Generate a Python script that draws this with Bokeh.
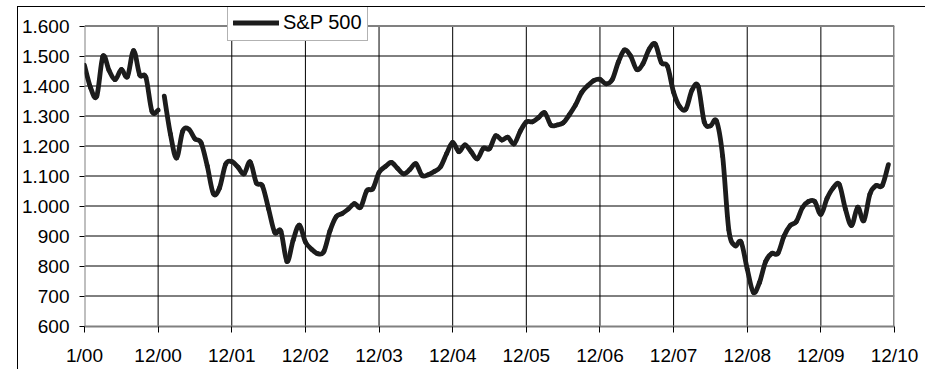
import numpy as np
from bokeh.plotting import figure
from bokeh.models import FixedTicker, Legend, LegendItem, ColumnDataSource, Range1d
from bokeh.embed import file_html
from bokeh.resources import INLINE

# ---- data (monthly values) ----
x_tick_labels = ["1/00", "12/00", "12/01", "12/02", "12/03", "12/04",
                 "12/05", "12/06", "12/07", "12/08", "12/09", "12/10"]
y_ticks = [600, 700, 800, 900, 1000, 1100, 1200, 1300, 1400, 1500, 1600]
y_tick_labels = ["600", "700", "800", "900", "1.000", "1.100", "1.200",
                 "1.300", "1.400", "1.500", "1.600"]

# first segment (months 0..12)
sp500_part1 = [1469, 1394, 1366, 1499, 1452, 1421, 1455, 1431, 1518, 1437,
               1429, 1315, 1320]
# second segment (months 13..131)
sp500_part2 = [1366, 1240, 1160, 1249, 1256, 1224, 1211, 1134, 1041, 1060,
               1139, 1148, 1130, 1107, 1147, 1077, 1067, 990, 912, 916,
               815, 886, 936, 880, 856, 841, 848, 917, 964, 975,
               990, 1008, 996, 1051, 1058, 1112, 1131, 1145, 1126, 1107,
               1121, 1141, 1102, 1104, 1115, 1130, 1174, 1212, 1181, 1204,
               1181, 1157, 1192, 1191, 1234, 1220, 1229, 1207, 1249, 1280,
               1281, 1295, 1311, 1270, 1270, 1277, 1304, 1336, 1378, 1401,
               1418, 1422, 1407, 1421, 1480, 1520, 1500, 1455, 1474, 1522,
               1540, 1478, 1466, 1379, 1331, 1323, 1386, 1400, 1280, 1267,
               1283, 1165, 920, 868, 880, 790, 712, 745, 815, 842,
               842, 900, 935, 948, 995, 1015, 1015, 972, 1025, 1060,
               1072, 990, 935, 996, 951, 1040, 1068, 1068, 1138]

n1 = len(sp500_part1)
n2 = len(sp500_part2)
x_part1 = np.arange(n1)
x_part2 = np.arange(n1, n1 + n2)
months_total = n1 + n2 + 1
x_ticks = list(range(0, months_total, 12))
x_min, x_max = 0, months_total - 1
y_min, y_max = y_ticks[0], y_ticks[-1]


def smooth_source(x, y):
    """Bezier segments through the data points (Excel-like smoothing)."""
    x = np.asarray(x, float)
    y = np.asarray(y, float)
    xp = np.concatenate([[x[0]], x, [x[-1]]])
    yp = np.concatenate([[y[0]], y, [y[-1]]])
    k = np.arange(len(x) - 1)
    x0, y0 = xp[k + 1], yp[k + 1]
    x1, y1 = xp[k + 2], yp[k + 2]
    cx0 = x0 + (xp[k + 2] - xp[k]) / 6.0
    cy0 = y0 + (yp[k + 2] - yp[k]) / 6.0
    cx1 = x1 - (xp[k + 3] - xp[k + 1]) / 6.0
    cy1 = y1 - (yp[k + 3] - yp[k + 1]) / 6.0
    return ColumnDataSource(dict(x0=x0, y0=y0, x1=x1, y1=y1,
                                 cx0=cx0, cy0=cy0, cx1=cx1, cy1=cy1))


FONT = "Liberation Sans"
FRAME_H = 319          # frame reaches the top of the canvas so the legend is not clipped
PX_PER_UNIT = 0.3      # 300 px for 1000 index points
y_lo = y_min - 0.5 / PX_PER_UNIT
y_hi = y_lo + FRAME_H / PX_PER_UNIT

p = figure(width=908, height=363, output_backend="svg", toolbar_location=None,
           x_range=Range1d(x_min, x_max), y_range=Range1d(y_lo, y_hi),
           min_border_left=66, min_border_right=32, min_border_top=0,
           min_border_bottom=363 - FRAME_H)
p.margin = (6, 0, 0, 17)
p.styles = {"border-left": "1px solid #000000", "border-top": "1px solid #000000"}

p.background_fill_color = "white"
p.border_fill_color = "white"
p.outline_line_color = None
p.xgrid.grid_line_color = None
p.ygrid.grid_line_color = None

# grid lines limited to the plot area (600..1600)
p.segment(x0=x_ticks[1:-1], y0=[y_min] * (len(x_ticks) - 2),
          x1=x_ticks[1:-1], y1=[y_max] * (len(x_ticks) - 2),
          line_color="#000000", line_width=1)
p.segment(x0=[x_min] * (len(y_ticks) - 2), y0=y_ticks[1:-1],
          x1=[x_max] * (len(y_ticks) - 2), y1=y_ticks[1:-1],
          line_color="#000000", line_width=1)
# plot-area border (gray): left and top
p.segment(x0=[x_min, x_min], y0=[y_min, y_max], x1=[x_min, x_max], y1=[y_max, y_max],
          line_color="#808080", line_width=2)
# right border (thicker gray)
p.segment(x0=[x_max], y0=[y_min], x1=[x_max], y1=[y_max],
          line_color="#808080", line_width=3)

line_color = "#1c1c1c"
r1 = p.bezier(x0="x0", y0="y0", x1="x1", y1="y1", cx0="cx0", cy0="cy0",
              cx1="cx1", cy1="cy1", source=smooth_source(x_part1, sp500_part1),
              line_color=line_color, line_width=4.8, line_cap="round")
r2 = p.bezier(x0="x0", y0="y0", x1="x1", y1="y1", cx0="cx0", cy0="cy0",
              cx1="cx1", cy1="cy1", source=smooth_source(x_part2, sp500_part2),
              line_color=line_color, line_width=4.8, line_cap="round")

# axes
p.xaxis.ticker = FixedTicker(ticks=x_ticks)
p.xaxis.major_label_overrides = {t: lab for t, lab in zip(x_ticks, x_tick_labels)}
p.yaxis.ticker = FixedTicker(ticks=y_ticks)
p.yaxis.major_label_overrides = {t: lab for t, lab in zip(y_ticks, y_tick_labels)}
for ax in (p.xaxis, p.yaxis):
    ax.major_tick_line_color = "#000000"
    ax.major_tick_in = 0
    ax.minor_tick_line_color = None
    ax.major_label_text_font = FONT
    ax.major_label_text_font_size = "19px"
    ax.major_label_text_color = "#000000"
p.xaxis.axis_line_color = "#808080"
p.xaxis.axis_line_width = 2
p.yaxis.axis_line_color = None
p.xaxis.major_tick_out = 6
p.xaxis.major_label_standoff = 12
p.yaxis.major_tick_out = 5
p.yaxis.major_label_standoff = 10

legend = Legend(items=[LegendItem(label="S&P 500", renderers=[r2])],
                location=(143, 285), orientation="vertical",
                border_line_color="#666666", border_line_width=1,
                background_fill_color="white", background_fill_alpha=1.0,
                label_text_font=FONT, label_text_font_size="20px",
                label_text_color="#000000", glyph_width=46, glyph_height=25,
                label_standoff=4, padding=5, margin=0, spacing=0)
p.add_layout(legend)

open("out.html", "w").write(file_html(p, INLINE))
